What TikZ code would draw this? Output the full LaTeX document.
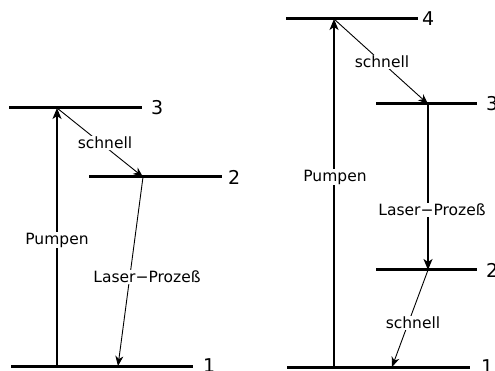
\documentclass[tikz,border=0pt]{standalone}
\usepackage{fontspec}
\setmainfont{DejaVu Sans}
\usetikzlibrary{arrows.meta}
\tikzset{
  level/.style={line width=3pt},
  lvlnum/.style={anchor=west, inner sep=0pt, font=\fontsize{19}{22}\selectfont},
  lbl/.style={fill=white, inner sep=1pt, font=\fontsize{15.5}{18}\selectfont},
  thick arrow/.style={line width=1.8pt, -{Stealth[length=11pt,width=9pt,inset=3pt]}},
  thin arrow/.style={line width=0.9pt, -{Stealth[length=10pt,width=8pt,inset=3pt]}},
}
\begin{document}
\begin{tikzpicture}[x=1pt,y=-1pt]
\useasboundingbox (0,0) rectangle (495,371);
% ---- left diagram: levels
\coordinate (a3w) at (9,108);   \coordinate (a3e) at (142,108);
\coordinate (a2w) at (89,177);  \coordinate (a2e) at (222,177);
\coordinate (a1w) at (11,366);  \coordinate (a1e) at (193,366);
\draw[level] (a3w) -- (a3e);
\draw[level] (a2w) -- (a2e);
\draw[level] (a1w) -- (a1e);
\node[lvlnum] (n3a) at (151,108) {3};
\node[lvlnum] (n2a) at (228,177) {2};
\node[lvlnum] (n1a) at (203,366) {1};
% transition points
\coordinate (ap1) at (57,366);
\coordinate (ap3) at (57,108);
\coordinate (as2) at (143,177);
\coordinate (al1) at (118,366);
\draw[thick arrow] (ap1) -- (ap3);
\draw[thin arrow] (ap3) -- (as2);
\draw[thin arrow] (as2) -- (al1);
\node[lbl] (pa) at (57,240) {Pumpen};
\node[lbl] (sa) at (105,143) {schnell};
\node[lbl] (la) at (147,277) {Laser−Prozeß};
% ---- right diagram: levels
\coordinate (b4w) at (286,19);  \coordinate (b4e) at (418,19);
\coordinate (b3w) at (376,104); \coordinate (b3e) at (477,104);
\coordinate (b2w) at (376,270); \coordinate (b2e) at (477,270);
\coordinate (b1w) at (287,367); \coordinate (b1e) at (470,367);
\draw[level] (b4w) -- (b4e);
\draw[level] (b3w) -- (b3e);
\draw[level] (b2w) -- (b2e);
\draw[level] (b1w) -- (b1e);
\node[lvlnum] (n4b) at (422,19) {4};
\node[lvlnum] (n3b) at (486,104) {3};
\node[lvlnum] (n2b) at (486,270) {2};
\node[lvlnum] (n1b) at (481,367) {1};
\coordinate (bp1) at (334,367);
\coordinate (bp4) at (334,19);
\coordinate (bs3) at (428,104);
\coordinate (bl2) at (428,270);
\coordinate (bs1) at (392,367);
\draw[thick arrow] (bp1) -- (bp4);
\draw[thin arrow] (bp4) -- (bs3);
\draw[thick arrow] (bs3) -- (bl2);
\draw[thin arrow] (bl2) -- (bs1);
\node[lbl] (pb) at (335,177) {Pumpen};
\node[lbl] (sb) at (382,62) {schnell};
\node[lbl] (lb) at (432,210) {Laser−Prozeß};
\node[lbl] (sb2) at (413,323) {schnell};
\end{tikzpicture}
\end{document}
